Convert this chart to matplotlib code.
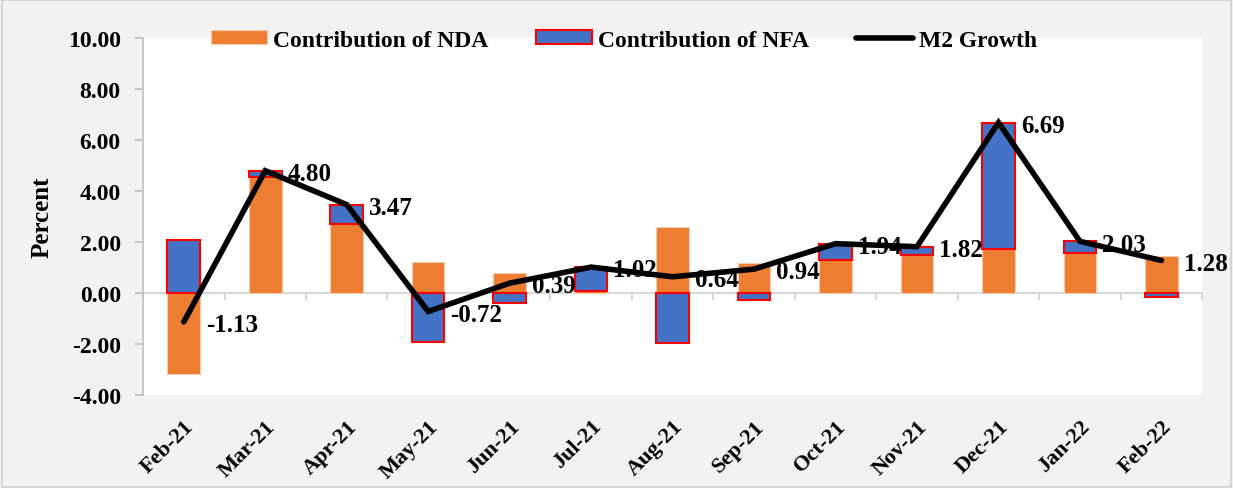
import numpy as np
import matplotlib.pyplot as plt
from matplotlib.patches import Rectangle

months = ['Feb-21', 'Mar-21', 'Apr-21', 'May-21', 'Jun-21', 'Jul-21', 'Aug-21',
          'Sep-21', 'Oct-21', 'Nov-21', 'Dec-21', 'Jan-22', 'Feb-22']
nda = [-3.19, 4.57, 2.72, 1.21, 0.77, 0.09, 2.59, 1.20, 1.29, 1.49, 1.72, 1.56, 1.44]
nfa = [2.07, 0.23, 0.75, -1.92, -0.38, 0.93, -1.94, -0.28, 0.65, 0.33, 4.97, 0.47, -0.16]
m2 = [-1.13, 4.80, 3.47, -0.72, 0.39, 1.02, 0.64, 0.94, 1.94, 1.82, 6.69, 2.03, 1.28]

plt.rcParams['font.family'] = ['Liberation Serif', 'DejaVu Serif']
plt.rcParams['font.weight'] = 'bold'

fig = plt.figure(figsize=(12.33, 4.89), dpi=100, facecolor='#F2F2F2')
fig.patches.append(Rectangle((0.002, 0.003), 0.996, 0.994, transform=fig.transFigure,
                             fill=False, edgecolor='#D0D0D0', lw=1.2))
ax = fig.add_axes([0.116, 0.190, 0.859, 0.730])
ax.set_facecolor('white')

x = np.arange(len(months))
nda_a = np.array(nda)
nfa_a = np.array(nfa)

# excel-style stacking: positives pile up, negatives pile down
nfa_bottom = np.where(np.sign(nfa_a) == np.sign(nda_a), nda_a, 0.0)

h1 = ax.bar(x, nda_a, width=0.4, color='#ED7D31', edgecolor='#F8CBAD', lw=0.8,
            label='Contribution of NDA', zorder=2)
h2 = ax.bar(x, nfa_a, width=0.4, bottom=nfa_bottom, color='#4472C4', edgecolor='#FF0000',
            lw=1.5, label='Contribution of NFA', zorder=2)
h3, = ax.plot(x, m2, color='black', lw=4.0, label='M2 Growth', zorder=3,
              solid_capstyle='round', solid_joinstyle='miter')

for xi, v in zip(x, m2):
    ax.annotate('%.2f' % v, (xi, v), xytext=(16, -2), textcoords='offset points',
                ha='left', va='center', fontsize=18, fontweight='bold', zorder=4)

ax.set_xlim(-0.5, len(months) - 0.5)
ax.set_ylim(-4, 10)
ax.set_yticks(np.arange(-4, 10.1, 2))
ax.set_yticklabels(['%.2f' % t for t in np.arange(-4, 10.1, 2)], fontsize=17,
                   fontweight='bold')
ax.set_ylabel('Percent', fontsize=18, fontweight='bold', labelpad=10)

ax.set_xticks(x)
ax.set_xticklabels(months, rotation=45, ha='right', rotation_mode='anchor',
                   fontsize=16, fontweight='bold')
ax.tick_params(axis='x', length=0, pad=15)
ax.tick_params(axis='y', length=6, color='#BFBFBF', width=1.2, pad=10)

for s in ['top', 'right', 'bottom']:
    ax.spines[s].set_visible(False)
ax.spines['left'].set_color('#BFBFBF')
ax.spines['left'].set_linewidth(1.2)

# zero line with category ticks
ax.axhline(0, color='#D9D9D9', lw=1.5, zorder=1)
for b in np.arange(-0.5, len(months) - 0.4, 1):
    ax.plot([b, b], [0, -0.25], color='#D9D9D9', lw=1.5, zorder=1, clip_on=False)

fig.legend([h1, h2, h3], ['Contribution of NDA', 'Contribution of NFA', 'M2 Growth'],
           loc='center', bbox_to_anchor=(0.506, 0.916), ncol=3, frameon=False,
           fontsize=17, handlelength=2.4, handleheight=0.55, columnspacing=2.0,
           handletextpad=0.25)

plt.savefig('out.png', dpi=100, facecolor=fig.get_facecolor())
